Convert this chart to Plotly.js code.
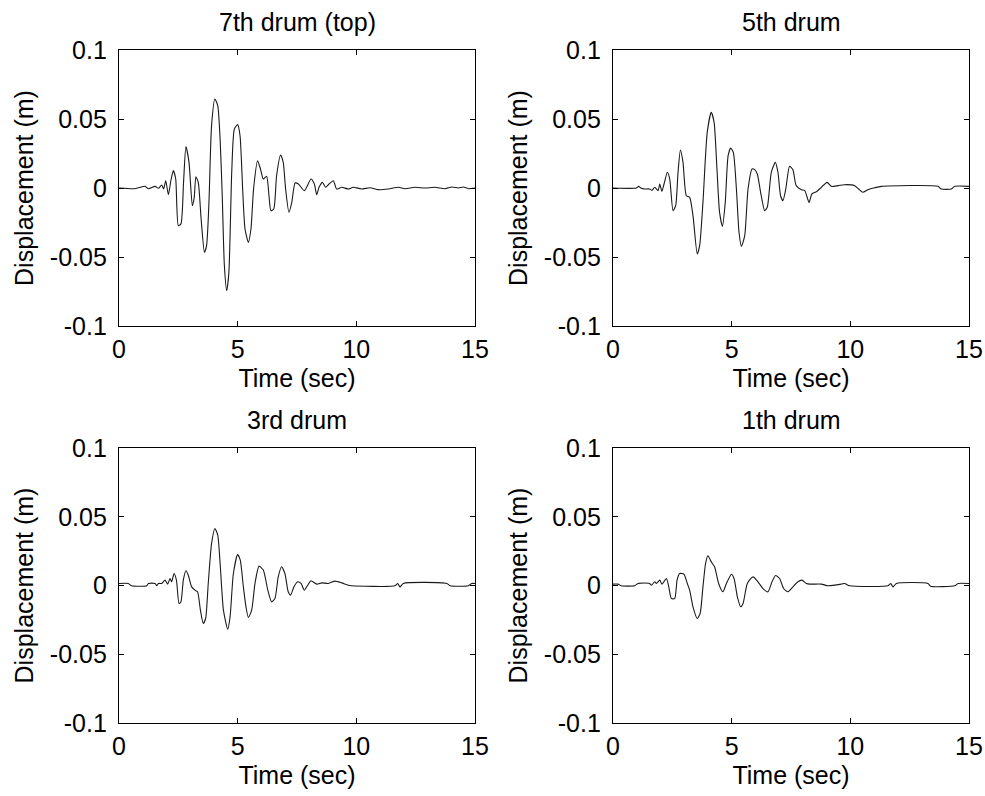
<!DOCTYPE html>
<html>
<head>
<meta charset="utf-8">
<script src="https://cdn.plot.ly/plotly-3.0.1.min.js"></script>
<style>html,body{margin:0;padding:0;background:#fff;}#chart{width:985px;height:796px;}</style>
</head>
<body>
<div id="chart"></div>
<script>
// ---- data ----
const panelTitles = ["7th drum (top)", "5th drum", "3rd drum", "1th drum"];
const xTickVals = [0, 5, 10, 15];
const xTickText = ["0", "5", "10", "15"];
const yTickVals = [-0.1, -0.05, 0, 0.05, 0.1];
const yTickText = ["-0.1", "-0.05", "0", "0.05", "0.1"];

const t7 = [0,0.67,1.10,1.24,1.52,1.66,1.80,1.88,1.97,2.08,2.19,2.29,2.39,2.50,2.61,2.72,2.82,2.95,3.09,3.17,3.24,3.34,3.46,3.60,3.69,3.79,3.90,4.04,4.16,4.26,4.35,4.44,4.54,4.63,4.75,4.86,5.00,5.10,5.21,5.31,5.45,5.56,5.67,5.84,5.96,6.08,6.22,6.32,6.40,6.52,6.64,6.81,6.92,7.02,7.16,7.28,7.42,7.56,7.81,8.09,8.23,8.33,8.43,8.57,8.71,8.85,9.03,9.17,9.38,9.66,9.87,10.22,10.58,10.93,11.35,11.77,12.05,12.47,12.89,13.31,13.74,14.02,14.30,14.51,14.72,15.0];
const d7 = [0,-0.0005,0.0012,-0.0005,0.0012,-0.0002,0.0022,-0.0007,0.0053,-0.0048,0.0058,0.0126,0.0065,-0.0273,-0.026,0.0041,0.030,0.0186,-0.0128,-0.0068,0.0082,0.0041,-0.0225,-0.0466,-0.0418,-0.0104,0.0452,0.0645,0.0597,0.0355,-0.0056,-0.0563,-0.0744,-0.0611,0.0114,0.0427,0.0459,0.0379,-0.0007,-0.0297,-0.0394,-0.0297,-0.0007,0.0198,0.0138,0.0065,0.0085,-0.0056,-0.0164,-0.0152,0.0089,0.0239,0.0186,-0.0007,-0.0176,-0.0104,0.0036,0.0029,-0.0019,0.0065,0.0029,-0.0048,0.0005,0.0041,0.0005,0.0029,0.0053,-0.0007,0.0005,-0.0007,0.0005,-0.0007,0.0002,-0.0012,-0.0007,0.0005,-0.0005,0.0005,0,0.0005,-0.0005,0.0007,0,0.0007,-0.0005,0];

const t5 = [0,0.98,1.08,1.19,1.33,1.54,1.64,1.76,1.90,1.97,2.06,2.15,2.29,2.39,2.53,2.64,2.74,2.84,2.95,3.09,3.23,3.37,3.55,3.65,3.79,3.97,4.14,4.26,4.38,4.49,4.61,4.73,4.85,4.96,5.07,5.20,5.31,5.41,5.55,5.69,5.86,5.97,6.08,6.22,6.39,6.50,6.67,6.84,6.95,7.06,7.16,7.28,7.44,7.58,7.72,7.94,8.08,8.26,8.38,8.57,8.78,9.02,9.20,9.48,9.76,10.18,10.35,10.53,10.74,11.03,11.31,13.69,13.83,14.26,14.40,15.0];
const d5 = [0,0,0.0012,-0.0002,-0.0007,-0.0007,-0.0017,0.0005,-0.0019,0.0029,-0.0024,0.0029,0.0114,0.0065,-0.0164,-0.0128,0.0114,0.0275,0.0186,-0.0056,-0.0068,-0.020,-0.0478,-0.0418,-0.0104,0.0403,0.0548,0.0476,0.0138,-0.0176,-0.0278,-0.0104,0.0234,0.029,0.0258,-0.0007,-0.0321,-0.0423,-0.0345,-0.0007,0.0138,0.0133,0.0101,-0.0031,-0.0164,-0.014,0.0114,0.0186,0.0114,-0.0056,-0.0092,-0.0007,0.0157,0.0133,0.0017,-0.0012,-0.0019,-0.0104,-0.0043,-0.0027,0.0005,0.0041,0.0012,0.0017,0.0024,0.0017,-0.0007,-0.0031,-0.0012,0.0002,0.0012,0.0012,-0.0007,-0.0007,0.0012,0.0012];

const t3 = [0,0.39,0.53,1.17,1.24,1.52,1.59,1.66,1.80,1.94,2.05,2.15,2.22,2.32,2.42,2.53,2.61,2.71,2.82,2.92,3.06,3.20,3.31,3.43,3.55,3.65,3.76,3.90,4.04,4.16,4.27,4.40,4.58,4.68,4.82,5.00,5.11,5.24,5.35,5.45,5.59,5.73,5.90,6.08,6.27,6.43,6.57,6.71,6.85,6.99,7.13,7.23,7.37,7.53,7.67,7.81,7.95,8.09,8.33,8.54,8.82,9.10,9.38,9.66,9.80,11.63,11.74,11.84,11.98,13.81,13.95,14.72,14.86,15.0];
const d3 = [0.0015,0.0015,-0.0002,-0.0002,0.0015,0.0015,-0.0002,0.0015,0.0015,0.0039,0.001,0.0051,0.0027,0.0087,0.0039,-0.0131,-0.0119,0.0039,0.0107,0.0075,-0.001,-0.0034,-0.0046,-0.0179,-0.0276,-0.024,0.0015,0.0305,0.0415,0.0366,0.0136,-0.0179,-0.0318,-0.0228,0.0087,0.0225,0.0184,-0.001,-0.0155,-0.0233,-0.0179,0.0015,0.0141,0.0112,-0.0034,-0.0119,-0.0095,0.0063,0.0136,0.0087,-0.0046,-0.007,-0.001,0.0027,0.0015,-0.0034,0.0002,0.0034,0.001,0.0019,0.0015,0.0032,0.0019,0.0002,-0.0002,-0.0002,0.0015,-0.001,0.0015,0.0015,-0.0002,-0.0002,0.0015,0.0015];

const t1 = [0,0.21,0.35,0.91,1.05,1.54,1.62,1.76,1.83,1.97,2.06,2.25,2.35,2.46,2.60,2.70,2.81,2.99,3.13,3.23,3.37,3.55,3.67,3.79,3.90,4.00,4.14,4.28,4.45,4.63,4.78,4.99,5.10,5.24,5.38,5.48,5.66,5.90,6.11,6.32,6.53,6.70,6.85,7.02,7.19,7.37,7.58,7.79,7.96,8.15,8.29,8.78,9.06,9.62,9.76,9.97,11.59,11.70,11.80,11.94,13.27,13.38,14.40,14.54,15.0];
const d1 = [0.001,0.001,-0.0002,-0.0002,0.0015,0.0015,0.0002,0.0027,0.0015,0.0039,0.001,0.0051,-0.001,-0.0095,-0.0095,0.0039,0.0087,0.0082,0.0015,-0.0034,-0.0155,-0.024,-0.0204,-0.001,0.016,0.0216,0.0172,0.0136,0.0015,-0.0046,0.0015,0.0082,0.0051,-0.0082,-0.0155,-0.0131,0.0015,0.0063,0.0027,-0.0022,-0.0046,0.0027,0.0073,0.0051,-0.0022,-0.0046,-0.001,0.0027,0.0039,0.0015,0.001,0.001,-0.0002,0.001,0.0015,-0.0002,-0.0002,0.0015,-0.001,0.0015,0.0015,-0.0005,-0.0002,0.0015,0.0015];

const times = [t7, t5, t3, t1];
const disps = [d7, d5, d3, d1];

// ---- layout ----
const W = 985, H = 796;
const FONT = "Liberation Sans, Arial, Helvetica, sans-serif";
const FS = 25;
const px = (a, b) => [a / W, b / W];
const py = (top, bot) => [1 - bot / H, 1 - top / H];
const xDom = [px(119, 475), px(613, 969)];
const yDom = [py(50, 326), py(448, 723)];

const traces = [];
const layout = {
  width: W, height: H,
  margin: {l: 0, r: 0, t: 0, b: 0},
  paper_bgcolor: "#fff", plot_bgcolor: "#fff",
  showlegend: false,
  font: {family: FONT, size: FS, color: "#000"},
  annotations: []
};

for (let i = 0; i < 4; i++) {
  const col = i % 2, row = Math.floor(i / 2);
  const n = i === 0 ? "" : String(i + 1);
  traces.push({
    x: times[i], y: disps[i], type: "scatter", mode: "lines",
    xaxis: "x" + n, yaxis: "y" + n,
    line: {color: "#1a1a1a", width: 1.1, shape: "spline", smoothing: 0.6},
    hoverinfo: "skip"
  });
  const common = {
    showline: true, linecolor: "#000", linewidth: 1.2, mirror: "ticks",
    ticks: "inside", ticklen: 5, tickwidth: 1, tickcolor: "#000",
    showgrid: false, zeroline: false, fixedrange: true,
    tickfont: {family: FONT, size: FS, color: "#000"}
  };
  layout["xaxis" + n] = Object.assign({}, common, {
    domain: xDom[col], anchor: "y" + n, range: [0, 15],
    tickvals: xTickVals, ticktext: xTickText, ticklabelstandoff: 1,
    title: {text: "Time (sec)", font: {family: FONT, size: FS, color: "#000"}, standoff: 7}
  });
  layout["yaxis" + n] = Object.assign({}, common, {
    domain: yDom[row], anchor: "x" + n, range: [-0.1, 0.1],
    tickvals: yTickVals, ticktext: yTickText, ticklabelstandoff: 6,
    title: {text: "Displacement (m)", font: {family: FONT, size: FS, color: "#000"}, standoff: 9}
  });
  const xd = xDom[col], yd = yDom[row];
  layout.annotations.push({
    text: panelTitles[i], xref: "paper", yref: "paper",
    x: (xd[0] + xd[1]) / 2, y: yd[1] + 28 / H, xanchor: "center", yanchor: "middle",
    showarrow: false, font: {family: FONT, size: FS, color: "#000"}
  });
}

Plotly.newPlot("chart", traces, layout, {staticPlot: true, displayModeBar: false});
</script>
</body>
</html>
